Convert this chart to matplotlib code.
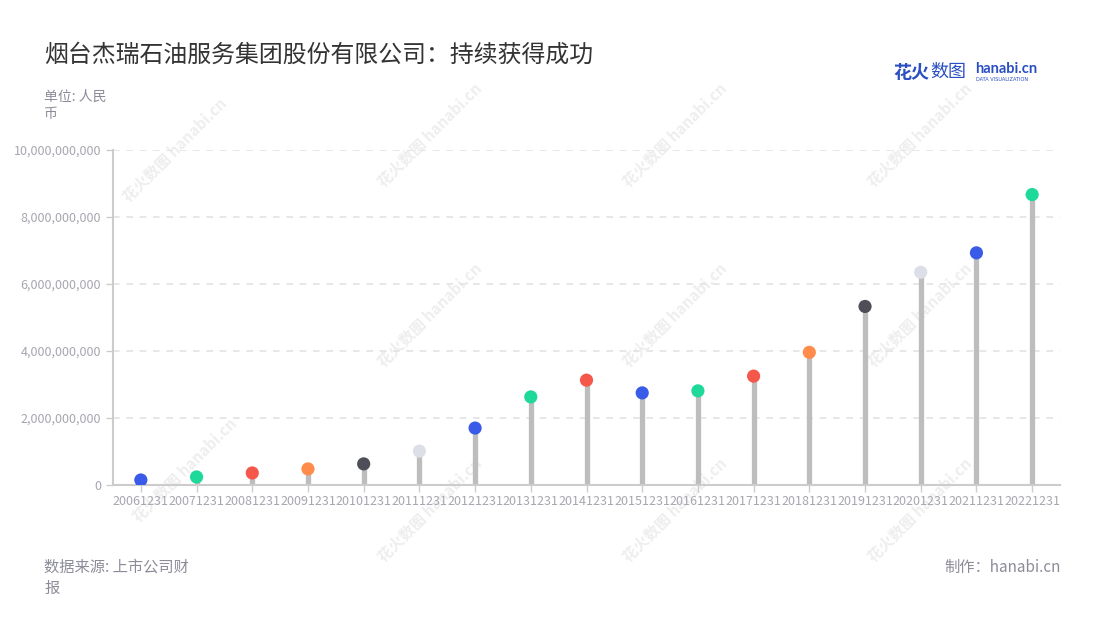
import matplotlib
matplotlib.use("Agg")
import matplotlib.pyplot as plt
from matplotlib.ticker import FuncFormatter

plt.rcParams['font.family'] = ['Noto Sans CJK SC', 'DejaVu Sans']

categories = ["20061231", "20071231", "20081231", "20091231", "20101231", "20111231",
              "20121231", "20131231", "20141231", "20151231", "20161231", "20171231",
              "20181231", "20191231", "20201231", "20211231", "20221231"]
values = [0.15e9, 0.24e9, 0.36e9, 0.48e9, 0.63e9, 1.01e9, 1.70e9, 2.63e9, 3.13e9,
          2.75e9, 2.81e9, 3.25e9, 3.96e9, 5.33e9, 6.35e9, 6.93e9, 8.67e9]
dot_colors = ["#3A5BE8", "#1ED99A", "#F5574B", "#FF8C4B", "#4E4E58", "#DCDFE7",
              "#3A5BE8", "#1ED99A", "#F5574B", "#3A5BE8", "#1ED99A", "#F5574B",
              "#FF8C4B", "#4E4E58", "#DCDFE7", "#3A5BE8", "#1ED99A"]
y_ticks = [0, 2e9, 4e9, 6e9, 8e9, 10e9]

W, H = 1100, 620
fig = plt.figure(figsize=(11, 6.2), dpi=100)
ax = fig.add_axes([113 / W, 1 - 485 / H, (1060 - 113) / W, (485 - 150) / H])
ax.patch.set_alpha(0)
ax.set_zorder(1)

# watermarks
wm_pos = [(175, 150), (185, 470), (430, 135), (430, 315), (430, 510),
          (675, 135), (675, 315), (675, 510), (920, 135), (920, 315), (920, 510)]
for (px, py) in wm_pos:
    fig.text(px / W, 1 - py / H, "花火数图 hanabi.cn", rotation=45, fontsize=11,
             color="#EEEEEE", ha="center", va="center", fontweight="bold", zorder=0)

x = list(range(len(categories)))
ax.vlines(x, 0, values, color="#BDBDBD", linewidth=3.8, zorder=2)
ax.scatter(x, values, s=90, c=dot_colors, zorder=3, linewidths=0)

ax.set_xlim(-0.5, len(categories) - 0.5)
ax.set_ylim(0, 10e9)
ax.set_yticks(y_ticks)
ax.yaxis.set_major_formatter(FuncFormatter(lambda v, p: f"{int(round(v)):,}"))
ax.set_xticks(x)
ax.set_xticklabels(categories)
ax.grid(axis="y", color="#E3E3E3", linestyle=(0, (4, 4)), linewidth=1.2)
ax.set_axisbelow(True)
for s in ["top", "right"]:
    ax.spines[s].set_visible(False)
for s in ["left", "bottom"]:
    ax.spines[s].set_color("#CCCCCC")
    ax.spines[s].set_linewidth(1.5)
ax.tick_params(axis="both", colors="#CCCCCC", labelcolor="#A6A6B0", labelsize=9,
               length=5, width=1)
ax.tick_params(axis="x", pad=2)

# title
fig.text(44 / W, 1 - 55 / H, "烟台杰瑞石油服务集团股份有限公司：持续获得成功", fontsize=17.2,
         color="#333333", ha="left", va="center")
fig.text(44 / W, 1 - 97 / H, "单位: 人民", fontsize=10, color="#8C8C99", ha="left", va="center")
fig.text(44 / W, 1 - 114 / H, "币", fontsize=10, color="#8C8C99", ha="left", va="center")

# logo
fig.text(893 / W, 1 - 72 / H, "花火", fontsize=13, color="#2A4FC2", fontweight="bold",
         ha="left", va="center")
fig.text(930 / W, 1 - 72 / H, "数图", fontsize=13, color="#2A4FC2", ha="left", va="center")
fig.text(975 / W, 1 - 69 / H, "hanabi.cn", fontsize=10.5, color="#2A4FC2", fontweight="bold",
         ha="left", va="center", family=["Lato", "DejaVu Sans"])
fig.text(976 / W, 1 - 79.5 / H, "DATA VISUALIZATION", fontsize=3.6, color="#2A4FC2",
         ha="left", va="center", family=["DejaVu Sans"])

# footer
fig.text(44 / W, 1 - 567 / H, "数据来源: 上市公司财", fontsize=11, color="#8C8C99",
         ha="left", va="center")
fig.text(44 / W, 1 - 588 / H, "报", fontsize=11, color="#8C8C99", ha="left", va="center")
fig.text(1061 / W, 1 - 567 / H, "制作：hanabi.cn", fontsize=11, color="#8C8C99",
         ha="right", va="center")

fig.savefig("out.png", dpi=100, facecolor="white")
